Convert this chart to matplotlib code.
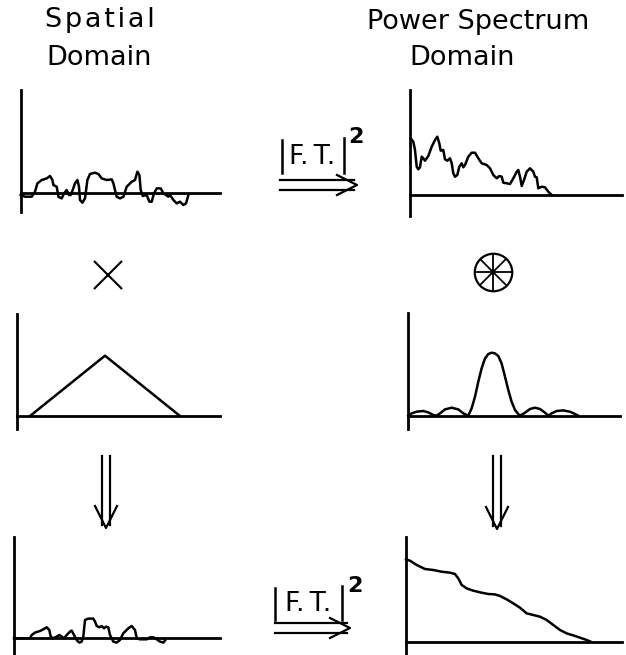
import matplotlib
matplotlib.use("Agg")
import matplotlib.pyplot as plt

# traced curves, in pixel units from each panel's origin (x right, y up)
noise_x = [0, 4.3, 11, 14.3, 16.7, 21, 26, 29.3, 31.7, 32.7, 36, 37.7, 41, 43.3, 46, 48.3, 50,
           52, 54.3, 56.7, 58.3, 59.3, 61.7, 64.3, 66.7, 69.3, 74.3, 77.7, 81, 86, 91, 92.7, 94.3,
           96, 99.3, 102.7, 106, 111, 114.3, 116.7, 118.7, 120, 122, 126, 128.7, 131, 133.3, 136,
           140, 142.7, 145.3, 147.7, 149.3, 152.7, 156, 159.3, 162.7, 165.3, 167.7]
noise_y = [-2.3, -4, -4, 1, 9.3, 12.7, 14.3, 16.7, 12.7, 7.7, 6, -4, -5.7, -0.7, 2.7, -2.3, -2.3,
           2.7, 9.3, 12.7, 6, -7.3, -10, -5.7, 12.7, 18.7, 20, 18.7, 14.3, 12.7, 13.3, 9.3, 2.7,
           -4, -5.7, -4, 6, 11, 12.7, 21, 17.7, 2.7, -3.3, -2.3, -9, -9, -0.7, 4.3,
           4.3, -0.7, -2.3, -4, -2.3, -7.3, -10.7, -9, -12.3, -10.7, -2.3]

spec_x = [0.7, 3.3, 5, 6.7, 8.3, 10, 11.7, 13.3, 15, 18.3, 21.7, 25, 27.3, 29.3, 30.7, 33.3, 35,
          37.3, 40, 41.7, 43.3, 45, 47.3, 49.3, 51.7, 53.3, 55, 58.3, 61.7, 65, 68.3, 71.7, 76.7,
          80, 83.3, 86.7, 89.3, 91.7, 93.3, 96.7, 100, 103.3, 106.7, 108.3, 110, 111.7, 114,
          116.7, 120, 123.3, 125, 126.7, 128.3, 131.7, 135, 138.3, 141.7]
spec_y = [56.7, 53.3, 45, 28.3, 25.7, 27.7, 38.3, 36.7, 34.3, 39, 48.3, 55, 58.3, 51.7, 44.3, 45,
          35.7, 34.3, 36.7, 31.7, 21.7, 18.3, 20, 28.3, 31.7, 27.7, 30, 38.3, 42.3, 42.3, 36.7,
          31.7, 30, 26.7, 20, 16.7, 19, 18.3, 12.3, 11.7, 11, 16.7, 23.3, 25, 18.3, 9, 15,
          23.3, 26.7, 23.3, 18.3, 17.7, 6.7, 8.3, 7.7, 3.3, 0]

window_x = [13.3, 88.3, 163.3]
window_y = [0, 60.3, 0]

psf_x = [0, 3.3, 8.3, 15, 20, 25, 28.3, 31.7, 36.7, 43.3, 50, 55, 60, 63.3, 66.7, 70, 73.3,
         76.7, 80, 83.3, 86.7, 90, 93.3, 96.7, 100, 103.3, 106.7, 110, 111.7, 116.7, 121.7,
         126.7, 131.7, 136.7, 140, 143.3, 148.3, 155, 161.7, 166.7, 170]
psf_y = [0, 2.3, 4, 4.7, 3.3, 0.7, 0, 2.3, 6.3, 8, 6.3, 2.3, 0, 7.3, 19, 34, 47.3,
         57.3, 61.7, 63, 62.3, 59.7, 52.3, 39, 25.7, 14, 5.7, 1.7, 0, 3, 6.7,
         8, 6.7, 3, 0, 2.3, 4.7, 5.3, 4, 1.7, 0]

prod_x = [0, 16, 17.7, 21, 26, 29.3, 32.7, 35.3, 36.7, 39.3, 42.7, 45.3, 47.7, 50, 52.7, 56,
          57.7, 60, 62.7, 65.3, 67.7, 69.3, 71, 74.3, 79.3, 81, 82.7, 85.3, 87.7, 90, 92, 94.3,
          96, 99.3, 102.7, 106, 109.3, 114.3, 117.7, 121, 122.7, 126, 132.7, 136, 139.3, 142.7,
          146, 149.3, 151]
prod_y = [0, 0, 3.3, 5.7, 7.3, 9, 11, 8.3, 1.7, 0, 1.7, 3.3, 1.7, 0, 3.3, 6.7,
          7.7, 3.3, -1.7, -4.3, -3.3, 1.7, 18.3, 19.7, 19.7, 16.7, 12.3, 11, 12.3, 10, 11.7, 11,
          3.3, -3.3, -4.3, -1.7, 5, 10, 12.3, 8.3, 0, -1, -1, 1, 1, -1,
          -3.3, -4.3, -2.3]

conv_x = [0, 4, 10.7, 19, 27.3, 35.7, 44, 49, 52.3, 55.7, 60.7, 67.3, 75.7, 82.3, 89, 94,
          100.7, 107.3, 114, 120.7, 127.3, 134, 140.7, 147.3, 154, 160.7, 167.3, 174, 180.7, 184.7]
conv_y = [82.3, 81, 76.7, 72.7, 71.7, 70, 69, 67.7, 63.3, 56.7, 53.3, 51, 49, 47.7, 47.3, 45.7,
          42.3, 38.3, 34, 28.3, 26.7, 25, 21.7, 16.7, 11.7, 8.3, 6.3, 4, 1.7, 0]

W, H = 626, 655
fig = plt.figure(figsize=(W / 100, H / 100), dpi=100)
fig.patch.set_facecolor("white")

# overlay in pixel coordinates for titles, operators and arrows
ov = fig.add_axes([0, 0, 1, 1])
ov.set_xlim(0, W)
ov.set_ylim(H, 0)
ov.axis("off")

LW = 1.8


def panel(ox, oy, top, bot, xend, xs, ys):
    ax = fig.add_axes([(ox - 8) / W, (H - (oy + 25)) / H, 240 / W, 140 / H])
    ax.set_xlim(-8, 232)
    ax.set_ylim(-25, 115)
    ax.patch.set_alpha(0)
    for s in ("top", "right"):
        ax.spines[s].set_visible(False)
    ax.spines["left"].set_position(("data", 0))
    ax.spines["bottom"].set_position(("data", 0))
    ax.spines["left"].set_bounds(bot, top)
    ax.spines["bottom"].set_bounds(0, xend)
    for s in ("left", "bottom"):
        ax.spines[s].set_linewidth(2.0)
        ax.spines[s].set_clip_on(False)
    ax.set_xticks([])
    ax.set_yticks([])
    ax.plot(xs, ys, color="black", lw=LW, solid_joinstyle="round", clip_on=False)
    return ax


panel(20.7, 192.7, 102.7, -19, 199, noise_x, noise_y)
panel(410, 195, 105, -21, 212, spec_x, spec_y)
panel(16.7, 416, 102, -13, 203, window_x, window_y)
panel(408.3, 415.7, 102.7, -13, 212, psf_x, psf_y)
panel(14, 638.3, 101.7, -17, 206, prod_x, prod_y)
panel(406, 641.7, 105, -14, 216, conv_x, conv_y)

# column titles
tkw = dict(ha="center", va="center", fontsize=19.5, family="DejaVu Sans", color="black")
ov.text(100, 20, "S\u200ap\u200aa\u200at\u200ai\u200aa\u200al", **tkw)
ov.text(99, 58, "Domain", **tkw)
ov.text(478, 22, "Power Spectrum", **tkw)
ov.text(462, 58, "Domain", **tkw)

# multiplication and convolution symbols
ov.plot([108], [275], marker="x", ms=20, mew=1.5, color="black")
ov.plot([493], [272], marker="o", ms=27, mew=1.6, mfc="none", color="black")
ov.plot([493], [272], marker="+", ms=27, mew=1.3, color="black")
ov.plot([493], [272], marker="x", ms=19, mew=1.3, color="black")


def right_arrow(x0, x1, yc, gap):
    ov.plot([x0, x1 - 3], [yc - gap, yc - gap], color="black", lw=1.6)
    ov.plot([x0, x1 - 3], [yc + gap, yc + gap], color="black", lw=1.6)
    ov.plot([x1 - 20, x1, x1 - 20], [yc - 10, yc, yc + 10], color="black", lw=1.6)


def down_arrow(xc, y0, y1, gap):
    ov.plot([xc - gap, xc - gap], [y0, y1 - 3], color="black", lw=1.6)
    ov.plot([xc + gap, xc + gap], [y0, y1 - 3], color="black", lw=1.6)
    ov.plot([xc - 11, xc, xc + 11], [y1 - 22, y1, y1 - 22], color="black", lw=1.6)


def ft_label(xl, xr, ytop, ybot, yc, x2, y2):
    ov.plot([xl, xl], [ytop, ybot], color="black", lw=1.8)
    ov.plot([xr, xr], [ytop - 2, ybot], color="black", lw=1.8)
    ov.text((xl + xr) / 2, yc, "F.\u2009T.", ha="center", va="center", fontsize=19,
            family="DejaVu Sans", color="black")
    ov.text(x2, y2, "2", ha="center", va="center", fontsize=16, fontweight="bold",
            color="black")


# |F.T.|^2 operators
ft_label(281.5, 343.5, 140, 172.5, 157.5, 356, 137)
right_arrow(280, 357, 185, 4.6)

ft_label(275, 341.7, 588, 620, 604, 355, 586)
right_arrow(275, 350, 628, 5.3)

down_arrow(106, 456, 528, 4.2)
down_arrow(497, 456, 529, 4.2)

fig.savefig("out.png", dpi=100, facecolor="white")
